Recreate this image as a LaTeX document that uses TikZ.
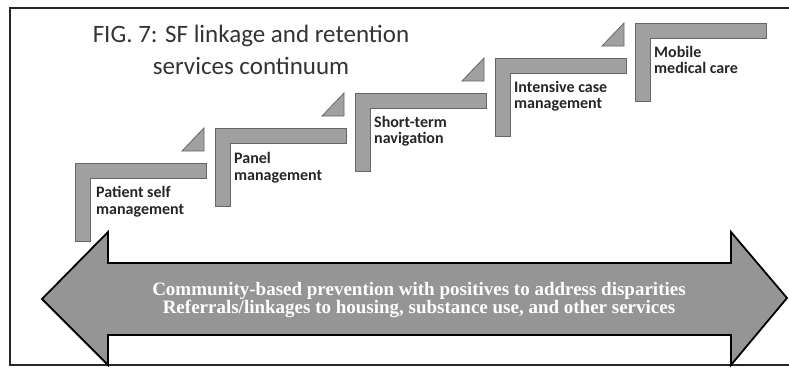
\documentclass[tikz,border=0pt]{standalone}
\usepackage{fontspec}
\setmainfont{Carlito}
\newfontfamily\arrowfont{Liberation Serif}
\definecolor{stepgray}{HTML}{A0A0A0}
\definecolor{stepedge}{HTML}{666666}
\definecolor{arrowgray}{HTML}{959595}
\newcommand\twoL[3]{\vtop{\baselineskip=#1\hbox{#2}\hbox{#3}}}
\newcommand\twoC[3]{\vtop{\baselineskip=#1\hbox to 0pt{\hss #2\hss}\hbox to 0pt{\hss #3\hss}}}
\begin{document}
\begin{tikzpicture}[x=1pt,y=-1pt,
  stepbar/.style={fill=stepgray,draw=stepedge,line width=0.8pt},
  steptri/.style={fill=stepgray,draw=stepedge,line width=0.8pt},
  steplabel/.style={anchor=base west,inner sep=0pt,font=\fontsize{16}{17}\selectfont\bfseries,text=black!85},
  titlestyle/.style={anchor=base,inner sep=0pt,font=\fontsize{25}{32}\selectfont,text=black!80},
  arrowshape/.style={fill=arrowgray,draw=black,line width=1.8pt,line join=miter},
  arrowtext/.style={anchor=base,inner sep=0pt,font=\arrowfont\bfseries\fontsize{19}{16}\selectfont,text=white},
  frameline/.style={draw=black!85,line width=1.5pt}]
\useasboundingbox (0,0) rectangle (789,367);
% frame
\draw[frameline] (789,8) -- (10,8) -- (10,365) -- (789,365);
% title
\node[titlestyle] (title) at (251,42) {\twoC{32pt}{FIG. 7: SF linkage and retention}{services continuum}};
% steps
\foreach \i in {0,...,4}{
  \pgfmathsetmacro{\L}{75+140*\i}
  \pgfmathsetmacro{\T}{163-35*\i}
  \draw[stepbar] (\L,\T) -- ++(131,0) -- ++(0,15) -- ++(-116,0) -- ++(0,63) -- ++(-15,0) -- cycle;
}
\foreach \i in {1,...,4}{
  \pgfmathsetmacro{\L}{75+140*\i}
  \pgfmathsetmacro{\T}{163-35*\i}
  \draw[steptri] (\L-33,\T+23) -- (\L-11,\T+23) -- (\L-11,\T) -- cycle;
}
\node[steplabel] (s1) at (96,197) {\twoL{17.5pt}{Patient self}{management}};
\node[steplabel] (s2) at (234,163) {\twoL{17pt}{Panel}{management}};
\node[steplabel] (s3) at (374,127) {\twoL{16.5pt}{Short-term}{navigation}};
\node[steplabel] (s4) at (514,92) {\twoL{16.5pt}{Intensive case}{management}};
\node[steplabel] (s5) at (654,57) {\twoL{16.5pt}{Mobile}{medical care}};
% double arrow
\draw[arrowshape] (42,299) -- (108,232) -- (108,263) -- (731,263) -- (731,232) -- (787,298) -- (731,365) -- (731,335) -- (108,335) -- (108,365) -- cycle;
\node[arrowtext] (band) at (419,295) {\twoC{15.5pt}{Community-based prevention with positives to address disparities}{Referrals/linkages to housing, substance use, and other services}};
\end{tikzpicture}
\end{document}
